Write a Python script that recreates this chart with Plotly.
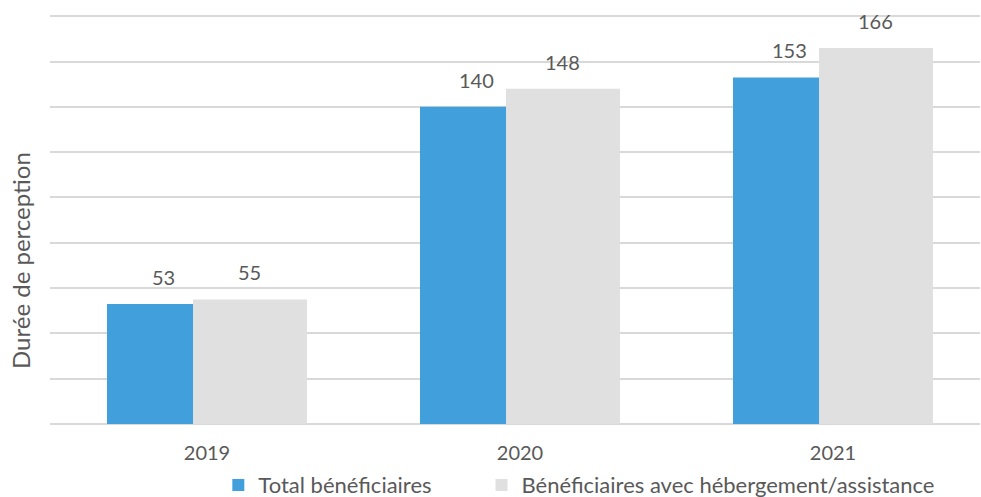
import plotly.graph_objects as go

years = ["2019", "2020", "2021"]
total_benef = [53, 140, 153]
benef_heberg = [55, 148, 166]
series_names = ["Total bénéficiaires", "Bénéficiaires avec hébergement/assistance"]
y_title = "Durée de perception"

BLUE = "#41A0DC"
GREY = "#E0E0E0"
TXT = "#595959"
FONT = "Lato"

bar_w = 0.364
off_blue = -0.3195
off_grey = -0.0447

fig = go.Figure()
fig.add_trace(go.Bar(x=years, y=total_benef, name=series_names[0], marker_color=BLUE,
                     width=bar_w, offset=off_blue, marker_line_width=0, legend="legend"))
fig.add_trace(go.Bar(x=years, y=benef_heberg, name=series_names[1], marker_color=GREY,
                     width=bar_w, offset=off_grey, marker_line_width=0, legend="legend2"))

for i, (a, b) in enumerate(zip(total_benef, benef_heberg)):
    fig.add_annotation(x=i + off_blue + bar_w / 2, y=a, text=str(a), showarrow=False,
                       yanchor="bottom", yshift=13, font=dict(family=FONT, size=20, color=TXT))
    fig.add_annotation(x=i + off_grey + bar_w / 2, y=b, text=str(b), showarrow=False,
                       yanchor="bottom", yshift=13, font=dict(family=FONT, size=20, color=TXT))

fig.add_annotation(xref="paper", yref="paper", x=-0.0323, y=0.40, text=y_title,
                   textangle=-90, showarrow=False, xanchor="center", yanchor="middle",
                   font=dict(family=FONT, size=24, color=TXT))

leg_common = dict(orientation="h", xanchor="left", y=-0.149, yanchor="middle",
                  font=dict(family=FONT, size=22, color=TXT), itemwidth=30,
                  bgcolor="rgba(0,0,0,0)")

fig.update_layout(
    width=981, height=497,
    margin=dict(l=50, r=1, t=14, b=73, autoexpand=False),
    barmode="overlay",
    plot_bgcolor="white", paper_bgcolor="white",
    font=dict(family=FONT, size=18, color=TXT),
    showlegend=True,
    legend=dict(x=0.181, **leg_common),
    legend2=dict(x=0.464, **leg_common),
    xaxis=dict(showgrid=False, showline=False, ticks="", tickfont=dict(size=20, color=TXT),
               range=[-0.5016, 2.4696], automargin=False, ticklabelstandoff=15),
    yaxis=dict(range=[0, 181], dtick=20, showticklabels=False, showgrid=True,
               gridcolor="#D9D9D9", gridwidth=1.5, zeroline=True, zerolinecolor="#D9D9D9",
               zerolinewidth=1.5, ticks="", automargin=False),
)

fig.write_html("out.html", config={"displayModeBar": False},
               post_script="document.body.style.margin='0';document.body.style.overflow='hidden';")
